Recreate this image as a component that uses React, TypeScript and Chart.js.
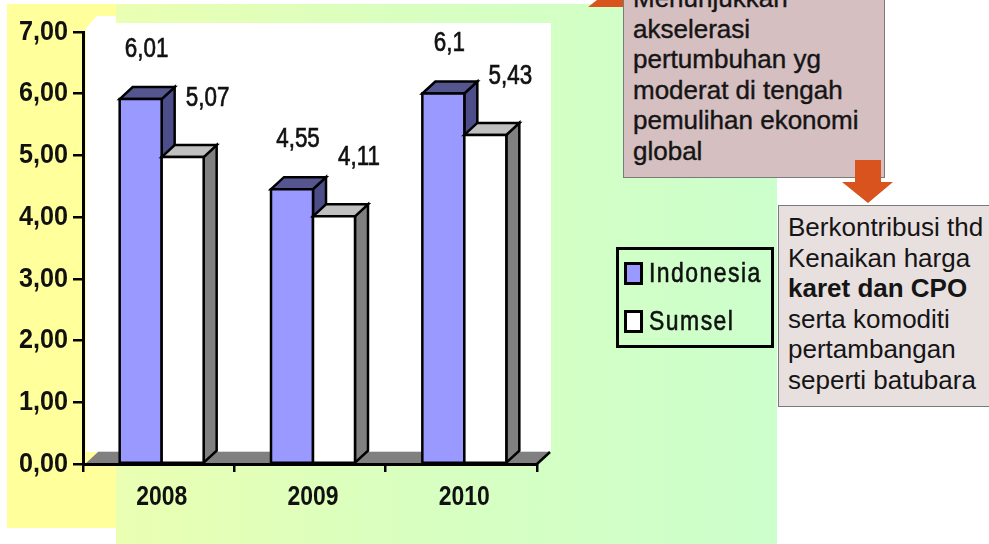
import React, { useEffect, useRef } from "react";
import { Chart, registerables } from "chart.js";

Chart.register(...registerables);

// ---------- data ----------
const categories = ["2008", "2009", "2010"];
const seriesNames = ["Indonesia", "Sumsel"];
const indonesiaValues = [6.01, 4.55, 6.1];
const sumselValues = [5.07, 4.11, 5.43];
const indonesiaLabels = ["6,01", "4,55", "6,1"];
const sumselLabels = ["5,07", "4,11", "5,43"];
const yTickLabels = ["0,00", "1,00", "2,00", "3,00", "4,00", "5,00", "6,00", "7,00"];
const note1Lines = ["Menunjukkan", "akselerasi", "pertumbuhan yg", "moderat di tengah", "pemulihan ekonomi", "global"];
const note2Lines = ["Berkontribusi thd", "Kenaikan harga", "karet dan CPO", "serta komoditi", "pertambangan", "seperti batubara"];
const note2Bold = [false, false, true, false, false, false];

// ---------- styles ----------
const SANS = "'Liberation Sans', Arial, sans-serif";
const DX = 13;
const DY = 12;
const BAR_SHIFT = 3;
const faces = [
  { front: "#9999ff", top: "#55558f", side: "#4d4d8a" },
  { front: "#ffffff", top: "#c0c0c0", side: "#808080" },
];
const labelOffsets = [
  { dx: 6, dy: -44 },
  { dx: 25, dy: -53 },
];

function narrowText(ctx: any, text: string, x: number, y: number, sx: number, align: string, thicken = 0) {
  ctx.save();
  ctx.translate(x, y);
  ctx.scale(sx, 1);
  ctx.textAlign = align;
  ctx.textBaseline = "middle";
  ctx.fillText(text, 0, 0);
  if (thicken > 0) {
    ctx.lineWidth = thicken;
    ctx.strokeStyle = ctx.fillStyle;
    ctx.strokeText(text, 0, 0);
  }
  ctx.restore();
}

const bars3d = {
  id: "bars3d",
  beforeDraw(chart: any) {
    const { ctx, chartArea: a } = chart;
    ctx.save();
    // back wall
    ctx.fillStyle = "#ffffff";
    ctx.beginPath();
    ctx.moveTo(a.left + 3, a.top - 4);
    ctx.lineTo(a.left + 14, a.top - 16);
    ctx.lineTo(a.left + 33, a.top - 16);
    ctx.lineTo(a.left + 33, a.top - 9);
    ctx.lineTo(a.right + 14, a.top - 9);
    ctx.lineTo(a.right + 14, a.bottom - DY);
    ctx.lineTo(a.left + 3, a.bottom - DY);
    ctx.closePath();
    ctx.fill();
    // floor
    ctx.fillStyle = "#808080";
    ctx.beginPath();
    ctx.moveTo(a.left + 2, a.bottom);
    ctx.lineTo(a.left + 2 + DX, a.bottom - DY);
    ctx.lineTo(a.right + DX, a.bottom - DY);
    ctx.lineTo(a.right, a.bottom);
    ctx.closePath();
    ctx.fill();
    ctx.strokeStyle = "#d8d8d8";
    ctx.lineWidth = 1;
    ctx.beginPath();
    ctx.moveTo(a.left + 2 + DX, a.bottom - DY - 0.5);
    ctx.lineTo(a.right + DX, a.bottom - DY - 0.5);
    ctx.stroke();
    ctx.restore();
  },
  beforeDatasetDraw() {
    return false;
  },
  afterDatasetsDraw(chart: any) {
    const { ctx, chartArea: a } = chart;
    ctx.save();
    ctx.lineWidth = 2.5;
    ctx.strokeStyle = "#000";
    ctx.lineJoin = "miter";
    const poly = (pts: number[][], fill: string) => {
      ctx.beginPath();
      ctx.moveTo(pts[0][0], pts[0][1]);
      for (let k = 1; k < pts.length; k++) ctx.lineTo(pts[k][0], pts[k][1]);
      ctx.closePath();
      ctx.fillStyle = fill;
      ctx.fill();
      ctx.stroke();
    };
    chart.data.datasets.forEach((ds: any, di: number) => {
      const meta = chart.getDatasetMeta(di);
      const f = faces[di];
      meta.data.forEach((el: any) => {
        const { x, y, base, width } = el.getProps(["x", "y", "base", "width"], true);
        const cx = x + BAR_SHIFT;
        const l = cx - width / 2;
        const r = cx + width / 2;
        const t = y + DY / 2;
        const b = base;
        poly([[r, t], [r + DX, t - DY], [r + DX, b - DY], [r, b]], f.side);
        poly([[l, t], [l + DX, t - DY], [r + DX, t - DY], [r, t]], f.top);
        poly([[l, t], [r, t], [r, b], [l, b]], f.front);
      });
    });
    // right end of the floor edge
    ctx.beginPath();
    ctx.moveTo(a.right, a.bottom);
    ctx.lineTo(a.right + DX, a.bottom - DY);
    ctx.stroke();

    // value labels
    ctx.fillStyle = "#111";
    ctx.font = `28px ${SANS}`;
    chart.data.datasets.forEach((ds: any, di: number) => {
      const meta = chart.getDatasetMeta(di);
      const off = labelOffsets[di];
      meta.data.forEach((el: any, i: number) => {
        const { x, y } = el.getProps(["x", "y"], true);
        narrowText(ctx, ds.valueLabels[i], x + BAR_SHIFT + off.dx, y + off.dy, 0.8, "center", 0.7);
      });
    });

    // axis tick labels (narrow)
    const ys = chart.scales.y;
    ctx.font = `bold 28px ${SANS}`;
    ys.ticks.forEach((t: any, i: number) => {
      const py = ys.getPixelForTick(i);
      narrowText(ctx, yTickLabels[Math.round(t.value)], ys.right - 15, py, 0.9, "right");
    });
    const xs = chart.scales.x;
    xs.ticks.forEach((t: any, i: number) => {
      const px = xs.getPixelForTick(i);
      narrowText(ctx, categories[i], px + BAR_SHIFT, xs.top + 33, 0.82, "center");
    });
    ctx.restore();
  },
};

export default function App() {
  const ref = useRef<HTMLCanvasElement | null>(null);

  useEffect(() => {
    if (!ref.current) return;
    const chart = new Chart(ref.current, {
      type: "bar",
      data: {
        labels: categories,
        datasets: [
          { label: seriesNames[0], data: indonesiaValues, backgroundColor: faces[0].front, valueLabels: indonesiaLabels } as any,
          { label: seriesNames[1], data: sumselValues, backgroundColor: faces[1].front, valueLabels: sumselLabels } as any,
        ],
      },
      options: {
        responsive: false,
        animation: false,
        layout: { padding: { top: 32, right: 452, left: 0, bottom: 0 } },
        datasets: { bar: { categoryPercentage: 0.555, barPercentage: 1 } },
        plugins: { legend: { display: false }, tooltip: { enabled: false } },
        scales: {
          y: {
            min: 0,
            max: 7,
            afterFit: (s: any) => { s.width = 83; },
            ticks: { stepSize: 1, display: false },
            grid: { drawOnChartArea: false, drawTicks: true, tickLength: 10, color: "#000", lineWidth: 2.5 },
            border: { display: true, color: "#000", width: 3 },
          },
          x: {
            afterFit: (s: any) => { s.height = 80; },
            ticks: { display: false },
            grid: { offset: true, drawOnChartArea: false, drawTicks: true, tickLength: 8, color: "#000", lineWidth: 2.5 },
            border: { display: true, color: "#000", width: 3 },
          },
        },
      },
      plugins: [bars3d],
    } as any);
    return () => chart.destroy();
  }, []);

  const lineH = 30.5;

  return (
    <div style={{ position: "absolute", left: 0, top: 0, width: 989, height: 544, overflow: "hidden", background: "#fff" }}>
      <div style={{ position: "absolute", left: 7, top: 4, width: 109, height: 524, background: "#ffff9c" }} />
      <div
        style={{
          position: "absolute",
          left: 116,
          top: 4,
          width: 661,
          height: 540,
          background: "linear-gradient(to right, #eaffb2 0%, #d8ffc0 45%, #ccffcc 100%)",
        }}
      />
      <canvas ref={ref} width={989} height={544} style={{ position: "absolute", left: 0, top: 0, width: 989, height: 544 }} />

      {/* legend */}
      <div
        style={{
          position: "absolute",
          left: 616,
          top: 247,
          width: 158,
          height: 101,
          boxSizing: "border-box",
          border: "3px solid #000",
          fontFamily: SANS,
          fontSize: 28,
          color: "#111",
        }}
      >
        {seriesNames.map((name, i) => (
          <div key={name} style={{ position: "absolute", left: 5, top: 11 + i * 48, height: 24, display: "flex", alignItems: "center" }}>
            <div style={{ width: 19, height: 23, boxSizing: "border-box", border: "3px solid #000", background: faces[i].front, flex: "none" }} />
            <span
              style={{
                marginLeft: 6,
                letterSpacing: 1.8,
                lineHeight: "24px",
                display: "inline-block",
                transform: "scaleX(0.82)",
                transformOrigin: "0 50%",
                whiteSpace: "nowrap",
                WebkitTextStroke: "0.6px #111",
              }}
            >
              {name}
            </span>
          </div>
        ))}
      </div>

      {/* orange piece at top */}
      <div
        style={{
          position: "absolute",
          left: 588,
          top: 0,
          width: 36,
          height: 7,
          background: "#d9531e",
          clipPath: "polygon(0 100%, 25% 0, 100% 0, 100% 100%)",
        }}
      />

      {/* note 1 */}
      <div
        style={{
          position: "absolute",
          left: 623,
          top: -25,
          width: 262,
          height: 203,
          boxSizing: "border-box",
          background: "#d5bfc0",
          border: "1px solid #7a7a7a",
          paddingTop: 7,
          paddingLeft: 9,
          fontFamily: SANS,
          fontSize: 26,
          lineHeight: `${lineH}px`,
          color: "#151515",
          whiteSpace: "nowrap",
          WebkitTextStroke: "0.4px #151515",
        }}
      >
        {note1Lines.map((t) => (
          <div key={t}>{t}</div>
        ))}
      </div>

      {/* down arrow */}
      <div
        style={{
          position: "absolute",
          left: 842,
          top: 160,
          width: 51,
          height: 43,
          background: "#d9531e",
          clipPath: "polygon(13px 0, 39px 0, 39px 22px, 51px 22px, 26px 43px, 0 22px, 13px 22px)",
        }}
      />

      {/* note 2 */}
      <div
        style={{
          position: "absolute",
          left: 778,
          top: 205,
          width: 230,
          height: 202,
          boxSizing: "border-box",
          background: "#e8dfdf",
          border: "1px solid #7a7a7a",
          paddingTop: 6,
          paddingLeft: 9,
          fontFamily: SANS,
          fontSize: 26,
          lineHeight: `${lineH}px`,
          color: "#151515",
          whiteSpace: "nowrap",
        }}
      >
        {note2Lines.map((t, i) => (
          <div key={t} style={{ fontWeight: note2Bold[i] ? "bold" : "normal" }}>{t}</div>
        ))}
      </div>
    </div>
  );
}
